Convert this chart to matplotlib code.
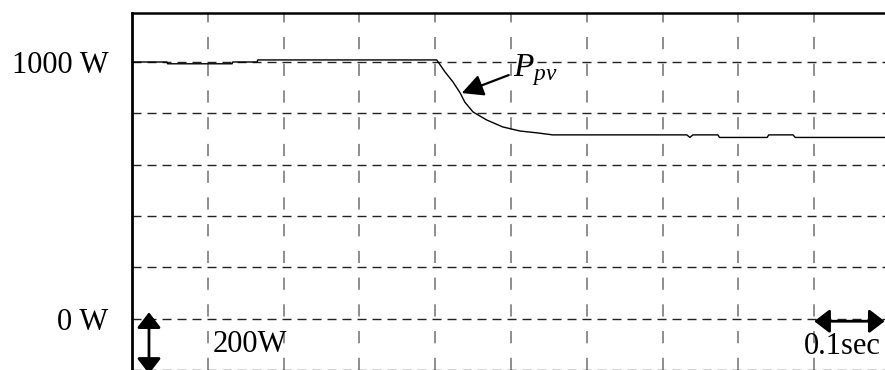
import matplotlib.pyplot as plt

plt.rcParams['font.family'] = ['Liberation Serif', 'DejaVu Serif']
plt.rcParams['mathtext.fontset'] = 'custom'
plt.rcParams['mathtext.rm'] = 'Liberation Serif'
plt.rcParams['mathtext.it'] = 'Liberation Serif:italic'

# PV power trace (time in s, power in W)
t = [0, 0.046, 0.047, 0.132, 0.133, 0.165, 0.166, 0.402, 0.413, 0.4235,
     0.433, 0.439, 0.450, 0.468, 0.489, 0.512, 0.534, 0.555, 0.732, 0.736,
     0.740, 0.773, 0.775, 0.838, 0.840, 0.872, 0.875, 1.0]
p_pv = [1000, 1000, 993, 993, 1000, 1000, 1008, 1008, 961, 922,
        879, 844, 805, 774, 747, 731, 724, 716, 716, 706,
        716, 716, 706, 706, 716, 716, 706, 706]

x_grid = [0.1, 0.2, 0.3, 0.4, 0.5, 0.6, 0.7, 0.8, 0.9]
y_grid = [-200, 0, 200, 400, 600, 800, 1000]
y_labels = {0: "0 W", 1000: "1000 W"}

fig = plt.figure(figsize=(8.85, 3.7), dpi=100)
ax = fig.add_axes([132 / 885, 0, 758 / 885, 357.3 / 370])

for x in x_grid:
    ax.axvline(x, color="#707070", lw=1.1, ls=(0, (8, 9.5)), zorder=1)
for y in y_grid:
    ax.axhline(y, color="#222222", lw=1.0, ls=(0, (6.5, 4.3)), zorder=1)

ax.plot(t, p_pv, color="black", lw=1.0, zorder=3)

ax.set_xlim(0, 1.0)
ax.set_ylim(-200, 1192)

ax.set_xticks([])
ax.set_yticks(list(y_labels.keys()))
ax.set_yticklabels(list(y_labels.values()), fontsize=22)
ax.tick_params(axis="y", length=0, pad=17)

for side in ["right", "bottom"]:
    ax.spines[side].set_visible(False)
ax.spines["left"].set_linewidth(2.0)
ax.spines["top"].set_linewidth(1.8)

# curve label
ax.annotate("", xy=(0.435, 879), xytext=(0.497, 949),
            arrowprops=dict(arrowstyle="-|>,head_length=0.65,head_width=0.33",
                            color="black", lw=1.6, mutation_scale=20,
                            shrinkA=0, shrinkB=0),
            zorder=4)
ax.text(0.503, 943, r"$P_{pv}$", fontsize=24, ha="left", va="baseline", zorder=4)

# scale markers
head = "<|-|>,head_length=0.47,head_width=0.36"
ax.annotate("", xy=(0.0224, 25), xytext=(0.0224, -215),
            arrowprops=dict(arrowstyle=head, color="black", lw=2,
                            mutation_scale=20, shrinkA=0, shrinkB=0))
ax.text(0.106, -101, "200W", fontsize=22, ha="left", va="center")

ax.annotate("", xy=(0.9, -10), xytext=(0.993, -10),
            arrowprops=dict(arrowstyle=head, color="black", lw=2,
                            mutation_scale=20, shrinkA=0, shrinkB=0))
ax.text(0.937, -109, "0.1sec", fontsize=22, ha="center", va="center")

fig.savefig("out.png", dpi=100)
